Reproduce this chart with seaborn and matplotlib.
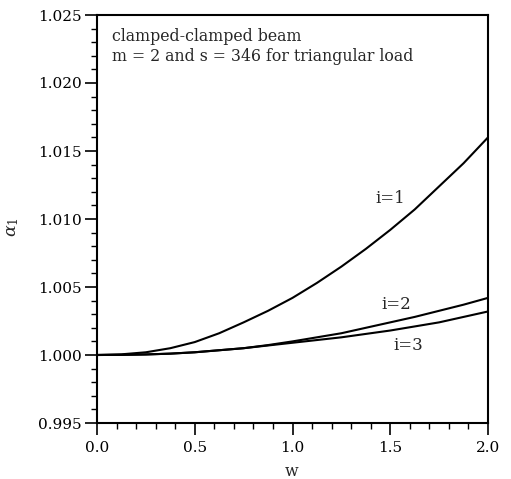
import matplotlib
matplotlib.use("Agg")
import matplotlib.pyplot as plt
import seaborn as sns
import pandas as pd
from matplotlib.ticker import MultipleLocator, FormatStrFormatter

# Data
w = [0.0, 0.125, 0.25, 0.375, 0.5, 0.625, 0.75, 0.875, 1.0,
     1.125, 1.25, 1.375, 1.5, 1.625, 1.75, 1.875, 2.0]
alpha_i1 = [1.0, 1.00005, 1.0002, 1.0005, 1.00095, 1.0016, 1.0024, 1.00325, 1.0042,
            1.0053, 1.0065, 1.0078, 1.0092, 1.0107, 1.0124, 1.0141, 1.0160]
alpha_i2 = [1.0, 1.00001, 1.00004, 1.0001, 1.0002, 1.00035, 1.0005, 1.00073, 1.0010,
            1.0013, 1.0016, 1.0020, 1.0024, 1.0028, 1.00325, 1.0037, 1.0042]
alpha_i3 = [1.0, 1.00001, 1.00004, 1.0001, 1.0002, 1.00035, 1.0005, 1.0007, 1.0009,
            1.0011, 1.0013, 1.00155, 1.0018, 1.0021, 1.0024, 1.0028, 1.0032]
series_labels = ["i=1", "i=2", "i=3"]

df = pd.DataFrame({
    "w": w * 3,
    "alpha": alpha_i1 + alpha_i2 + alpha_i3,
    "series": [series_labels[0]] * len(w) + [series_labels[1]] * len(w) + [series_labels[2]] * len(w),
})

sns.set_theme(style="ticks")
plt.rcParams["font.family"] = ["DejaVu Serif"]
plt.rcParams["mathtext.fontset"] = "dejavuserif"

fig = plt.figure(figsize=(5.11, 4.79), dpi=100)
ax = fig.add_axes([97 / 511, 1 - 423 / 479, (488 - 97) / 511, (423 - 15) / 479])

sns.lineplot(data=df, x="w", y="alpha", hue="series", palette=["black"] * 3,
             linewidth=1.5, legend=False, ax=ax)

ax.set_xlim(0, 2.0)
ax.set_ylim(0.995, 1.025)
ax.xaxis.set_major_locator(MultipleLocator(0.5))
ax.xaxis.set_minor_locator(MultipleLocator(0.1))
ax.yaxis.set_major_locator(MultipleLocator(0.005))
ax.yaxis.set_minor_locator(MultipleLocator(0.001))
ax.xaxis.set_major_formatter(FormatStrFormatter("%.1f"))
ax.yaxis.set_major_formatter(FormatStrFormatter("%.3f"))

ax.tick_params(axis="both", which="major", direction="out", length=8.5, width=1.2,
               labelsize=11, colors="black")
ax.tick_params(axis="both", which="minor", direction="out", length=4.3, width=1.0,
               colors="black")
ax.tick_params(axis="x", which="major", pad=4.5)
ax.tick_params(axis="y", which="major", pad=2.5)

for sp in ax.spines.values():
    sp.set_visible(True)
    sp.set_linewidth(1.5)
    sp.set_color("black")

ax.set_xlabel("w", fontsize=11.5)
ax.set_ylabel(r"$\alpha_1$", fontsize=12.5)
ax.xaxis.set_label_coords(0.4987, -0.098)
ax.yaxis.set_label_coords(-0.195, 0.48)

ax.text(0.038, 0.968,
        "clamped-clamped beam\nm = 2 and s = 346 for triangular load",
        transform=ax.transAxes, fontsize=11.3, va="top", ha="left", linespacing=1.25)

ax.text(1.5, 1.0115, series_labels[0], fontsize=12, ha="center", va="center")
ax.text(1.53, 1.0037, series_labels[1], fontsize=12, ha="center", va="center")
ax.text(1.59, 1.0007, series_labels[2], fontsize=12, ha="center", va="center")

fig.savefig("out.png", dpi=100)
